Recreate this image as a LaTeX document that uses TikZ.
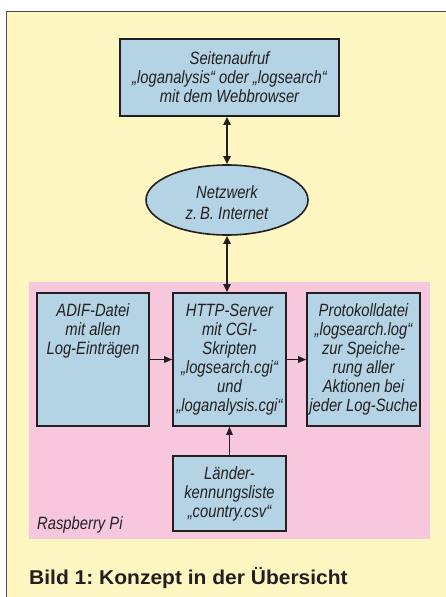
\documentclass[tikz,border=0pt]{standalone}
\usepackage{fontspec}
\setmainfont{Liberation Sans}
\newfontfamily\condit[FakeStretch=0.83]{Liberation Sans}
\newfontfamily\capfont[FakeStretch=1.05]{Liberation Sans}
\usetikzlibrary{arrows.meta,shapes.geometric}
\definecolor{bgyellow}{RGB}{255,247,194}
\definecolor{rpink}{RGB}{247,200,221}
\definecolor{boxblue}{RGB}{180,212,229}
\definecolor{ink}{RGB}{35,31,32}
\frenchspacing
\tikzset{
  box/.style={draw=ink, line width=1.6pt, fill=boxblue, rectangle, inner sep=0pt},
  txt/.style={text=ink, font=\condit\itshape\fontsize{17.8}{19}\selectfont, align=center, inner sep=0pt},
  dbl/.style={line width=1.8pt, draw=ink, {Triangle[length=8pt,width=7pt]}-{Triangle[length=8pt,width=7pt]}},
  sgl/.style={line width=1.3pt, draw=ink, -{Triangle[length=8pt,width=6.5pt]}}
}
\begin{document}
\begin{tikzpicture}[x=1pt,y=-1pt]
\useasboundingbox (0,0) rectangle (446,597);
\fill[white] (0,0) rectangle (446,597);
\fill[bgyellow] (6.5,11) rectangle (446,597);
\draw[ink!80, line width=0.9pt] (6.5,597) -- (6.5,11) -- (446,11);
\fill[rpink] (29,282) rectangle (430,539);

\node[box, txt, minimum width=219pt, minimum height=77pt] (top) at (229.5,77.5)
  {Seitenaufruf\\„loganalysis“ oder „logsearch“\\mit dem Webbrowser};
\node[ellipse, draw=ink, line width=1.6pt, fill=boxblue, minimum width=162pt, minimum height=70pt] (net) at (227,200) {};
\node[txt] (nett) at ([yshift=-3pt]net.center) {Netzwerk\\[2pt]z.\,B. Internet};

\node[box, minimum width=112pt, minimum height=133pt] (adif) at (93,359.5) {};
\node[txt, anchor=north] (adift) at ([yshift=-11pt]adif.north) {ADIF-Datei\\mit allen\\Log-Einträgen};
\node[box, txt, minimum width=113pt, minimum height=133pt] (http) at (229.5,359.5)
  {HTTP-Server\\mit CGI-\\Skripten\\„logsearch.cgi“\\und\\„loganalysis.cgi“};
\node[box, txt, minimum width=113pt, minimum height=133pt] (prot) at (363.5,359.5)
  {Protokolldatei\\„logsearch.log“\\zur Speiche-\\rung aller\\Aktionen bei\\jeder Log-Suche};
\node[box, txt, minimum width=113pt, minimum height=75pt] (land) at (229.5,493.5)
  {Länder-\\kennungsliste\\„country.csv“};

\node[txt, anchor=base west] (rpi) at (37,529) {Raspberry Pi};
\node[anchor=base west, inner sep=0pt, text=ink, font=\capfont\bfseries\fontsize{20}{24}\selectfont] (cap) at (29,584) {Bild 1: Konzept in der Übersicht};

\draw[dbl] (top.south -| net.north) -- (net.north);
\draw[dbl] (net.south) -- (net.south |- http.north);
\draw[sgl] (adif.east) -- (http.west);
\draw[sgl] (http.east) -- (prot.west);
\draw[sgl] (land.north) -- (http.south);
\end{tikzpicture}
\end{document}
